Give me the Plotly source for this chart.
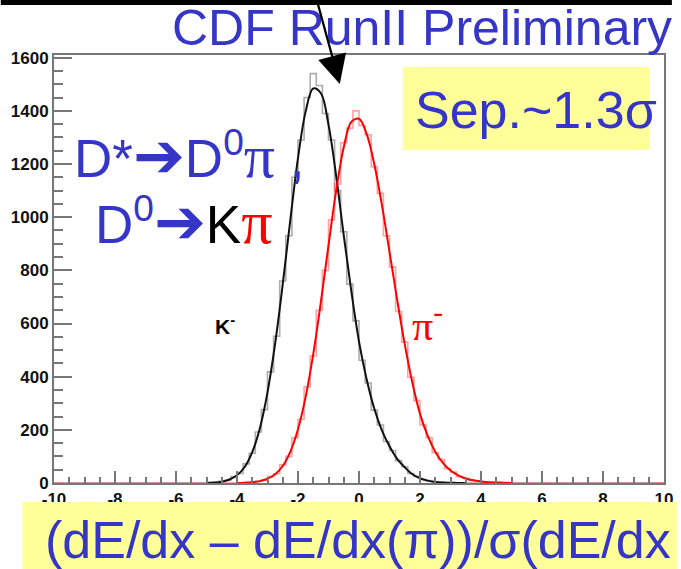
import numpy as np
import plotly.graph_objects as go

# ---------------- data ----------------
BIN_LO, BIN_W = -5.0, 0.2   # histogram binning (50 bins from -5 to 5)
K_HIST = [0, 2, 6, 10, 24, 36, 72, 112, 192, 276,
          418, 552, 760, 930, 1150, 1290, 1450, 1540, 1495, 1390,
          1290, 1100, 945, 748, 610, 462, 376, 274, 218, 156,
          122, 84, 61, 36, 25, 13, 9, 4, 3, 1,
          1, 0, 0, 0, 0, 0, 0, 0, 0, 0]
PI_HIST = [0, 0, 0, 0, 0, 0, 2, 2, 7, 11,
           24, 35, 68, 100, 170, 240, 362, 478, 650, 800,
           990, 1125, 1280, 1335, 1400, 1345, 1310, 1190, 1090, 930,
           812, 645, 530, 398, 310, 218, 170, 114, 88, 54,
           41, 24, 18, 10, 8, 4, 3, 1, 1, 0]

K_CURVE_X0, PI_CURVE_X0, CURVE_DX = -5.0, -4.0, 0.25
K_CURVE = [1, 2, 5, 13, 29, 60, 116, 206, 341, 524, 748, 992, 1222, 1397, 1484,
           1466, 1348, 1156, 932, 720, 532, 390, 280, 198, 138, 91, 59, 33, 18,
           9, 4, 2, 1, 0, 0]
PI_CURVE = [0, 1, 3, 7, 16, 33, 64, 118, 202, 324, 485, 681, 894, 1099, 1263,
            1359, 1370, 1313, 1200, 1046, 870, 690, 522, 377, 260, 178, 118, 76,
            47, 29, 17, 10, 6, 3, 2, 1, 0]

X_TICKS = [-10, -8, -6, -4, -2, 0, 2, 4, 6, 8, 10]
X_TICK_TEXT = ["-10", "-8", "-6", "-4", "-2", "0", "2", "4", "6", "8", "10"]
Y_TICKS = [0, 200, 400, 600, 800, 1000, 1200, 1400, 1600]

# ---------------- helpers ----------------
W, H = 681, 569
ML, MR, MT, MB = 54, 8, 55, 86
PW, PH = W - ML - MR, H - MT - MB


def px(xpix):
    return (xpix - ML) / PW


def py(ypix):
    return (H - MB - ypix) / PH


def step_xy(vals):
    edges = [BIN_LO + BIN_W * i for i in range(len(vals) + 1)]
    xs = [-10.0] + edges + [10.0]
    ys = [0] + list(vals) + [0, 0]
    return xs, ys


BLUE = "#3535c8"
YELLOW = "#ffff99"

fig = go.Figure()

kx, ky = step_xy(K_HIST)
fig.add_trace(go.Scatter(x=kx, y=ky, mode="lines", line=dict(shape="hv", color="rgba(90,90,90,0.5)", width=1.6),
                         hoverinfo="skip", showlegend=False))
pxs, pys = step_xy(PI_HIST)
fig.add_trace(go.Scatter(x=pxs, y=pys, mode="lines", line=dict(shape="hv", color="rgba(255,70,70,0.5)", width=1.6),
                         hoverinfo="skip", showlegend=False))

kcx = K_CURVE_X0 + CURVE_DX * np.arange(len(K_CURVE))
fig.add_trace(go.Scatter(x=kcx, y=K_CURVE, mode="lines", line=dict(shape="spline", color="#111111", width=2),
                         hoverinfo="skip", showlegend=False))
pcx = PI_CURVE_X0 + CURVE_DX * np.arange(len(PI_CURVE))
fig.add_trace(go.Scatter(x=pcx, y=PI_CURVE, mode="lines", line=dict(shape="spline", color="#ff0000", width=2),
                         hoverinfo="skip", showlegend=False))

tickfont = dict(family="Liberation Sans, Arial", size=17, color="#111111", weight="bold")

fig.update_xaxes(range=[-10, 10], tickmode="array", tickvals=X_TICKS, ticktext=X_TICK_TEXT,
                 ticks="inside", ticklen=12, tickwidth=1.5, tickcolor="#777777",
                 minor=dict(tickmode="linear", tick0=-10, dtick=0.5, ticks="inside", ticklen=6,
                            tickwidth=1.5, tickcolor="#777777"),
                 showline=True, linecolor="#777777", linewidth=2, mirror=True,
                 showgrid=False, zeroline=False, tickfont=tickfont)
fig.update_yaxes(range=[0, 1610], tickmode="array", tickvals=Y_TICKS,
                 ticks="inside", ticklen=18, tickwidth=1.5, tickcolor="#777777",
                 minor=dict(tickmode="linear", tick0=0, dtick=50, ticks="inside", ticklen=9,
                            tickwidth=1.5, tickcolor="#777777"),
                 showline=True, linecolor="#777777", linewidth=2, mirror=True,
                 showgrid=False, zeroline=False, tickfont=tickfont)

shapes = [
    # black band at top
    dict(type="rect", xref="paper", yref="paper", x0=px(0), x1=px(W), y0=py(5), y1=py(0),
         fillcolor="black", line=dict(width=0), layer="above"),
    # Sep box
    dict(type="rect", xref="paper", yref="paper", x0=px(408), x1=px(658), y0=py(150), y1=py(67),
         fillcolor=YELLOW, line=dict(width=0), layer="above"),
    # x title box
    dict(type="rect", xref="paper", yref="paper", x0=px(22), x1=px(W + 5), y0=py(H + 5), y1=py(502),
         fillcolor=YELLOW, line=dict(width=0), layer="above"),
]

SERIF = "font-family:Liberation Serif;font-size:62px"
ARROW = "<span style='font-size:62px'>➔</span>"
annotations = [
    dict(text="CDF RunII Preliminary", x=px(683), y=py(28), xanchor="right", yanchor="middle",
         font=dict(family="Liberation Sans, Arial", size=50, color=BLUE)),
    dict(text="Sep.~1.3σ", x=px(543), y=py(110), xanchor="center", yanchor="middle",
         font=dict(family="Liberation Sans, Arial", size=52, color=BLUE)),
    dict(text="(dE/dx – dE/dx(π))/σ(dE/dx", x=px(43), y=py(540), xanchor="left", yanchor="middle",
         font=dict(family="Liberation Sans, Arial", size=52, color=BLUE)),
    dict(text="D*" + ARROW + "D<sup>0</sup><span style='" + SERIF + "'>π</span> ,",
         x=px(72), y=py(155), xanchor="left", yanchor="middle",
         font=dict(family="Liberation Sans, DejaVu Sans", size=53, color=BLUE)),
    dict(text="D<sup>0</sup>" + ARROW + "<span style='color:black'>K</span>"
              "<span style='color:red;" + SERIF + "'>π</span>",
         x=px(94), y=py(221), xanchor="left", yanchor="middle",
         font=dict(family="Liberation Sans, DejaVu Sans", size=53, color=BLUE)),
    dict(text="<b>K<sup>-</sup></b>", x=px(228), y=py(325), xanchor="center", yanchor="middle",
         font=dict(family="Liberation Sans, Arial", size=21, color="black")),
    dict(text="π<sup>-</sup>", x=px(433), y=py(322), xanchor="center", yanchor="middle",
         font=dict(family="Liberation Serif", size=42, color="red")),
    # arrow
    dict(text="", x=px(344), y=py(84), ax=-23, ay=-84, showarrow=True, arrowhead=2,
         arrowsize=2.5, arrowwidth=2.3, arrowcolor="black", xref="paper", yref="paper"),
]
for a in annotations:
    a.setdefault("xref", "paper")
    a.setdefault("yref", "paper")
    a.setdefault("showarrow", False)

fig.update_layout(width=W, height=H, margin=dict(l=ML, r=MR, t=MT, b=MB),
                  paper_bgcolor="white", plot_bgcolor="white",
                  shapes=shapes, annotations=annotations, showlegend=False)

fig.write_html("out.html", config={"displayModeBar": False})
